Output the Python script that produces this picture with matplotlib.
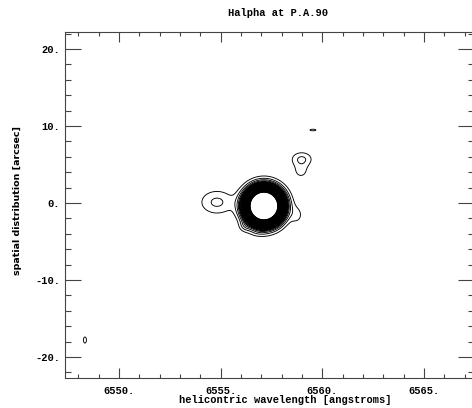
import numpy as np
import matplotlib
matplotlib.use("Agg")
import matplotlib.pyplot as plt
from matplotlib.ticker import FixedLocator, MultipleLocator

# emission components (wavelength [A], position [arcsec], widths, peak)
comp_wave = [6557.13, 6554.82, 6558.99, 6558.95, 6559.54, 6548.33, 6558.75, 6556.8, 6556.2]
comp_pos = [-0.39, 0.10, 5.71, 4.16, 9.48, -17.80, -1.56, -3.80, -3.0]
comp_dwave = [0.48, 0.58, 0.36, 0.29, 0.47, 0.17, 0.25, 0.30, 0.20]
comp_dpos = [1.27, 1.10, 0.65, 0.78, 0.33, 0.90, 0.90, 0.40, 0.5]
comp_peak = [111.0, 2.25, 2.15, 1.3, 1.05, 1.1, 1.2, 0.5, 1.5]

levels = list(range(1, 41))

xticks = [6550, 6555, 6560, 6565]
yticks = [-20, -10, 0, 10, 20]

wave = np.arange(6547.3, 6567.5, 0.02)
pos = np.arange(-22.8, 22.3, 0.05)
W, P = np.meshgrid(wave, pos)
flux = np.zeros_like(W)
for w0, p0, dw, dp, a in zip(comp_wave, comp_pos, comp_dwave, comp_dpos, comp_peak):
    flux += a * np.exp(-0.5 * (((W - w0) / dw) ** 2 + ((P - p0) / dp) ** 2))

mono = dict(family=["Liberation Mono", "DejaVu Sans Mono"], weight="bold")

fig = plt.figure(figsize=(4.72, 4.08), dpi=100)
ax = fig.add_axes([65 / 472, 30 / 408, 409 / 472, 346 / 408])

lws = [0.65 if lv <= 4 else 0.9 for lv in levels]
ax.contour(W, P, flux, levels=levels, colors="black", linewidths=lws)

ax.set_xlim(6547.35, 6567.46)
ax.set_ylim(-22.73, 22.21)

ax.xaxis.set_major_locator(FixedLocator(xticks))
ax.xaxis.set_minor_locator(MultipleLocator(1))
ax.yaxis.set_major_locator(FixedLocator(yticks))
ax.yaxis.set_minor_locator(MultipleLocator(2))
ax.set_xticklabels(["%d." % x for x in xticks], **mono, size=7.5)
ax.set_yticklabels(["%d." % y for y in yticks], **mono, size=7.5)

ax.tick_params(axis="x", which="major", direction="in", length=7.2, width=0.8,
               top=True, bottom=True, pad=5.5, color="#444444")
ax.tick_params(axis="x", which="minor", direction="in", length=3, width=0.8,
               top=True, bottom=True, color="#444444")
ax.tick_params(axis="y", which="major", direction="in", length=11.5, width=0.8,
               left=True, right=True, pad=3.6, color="#444444")
ax.tick_params(axis="y", which="minor", direction="in", length=4, width=0.8,
               left=True, right=True, color="#444444")
for s in ax.spines.values():
    s.set_linewidth(0.8)
    s.set_color("#444444")

ax.set_xlabel("helicontric wavelength [angstroms]", **mono, size=7.5)
ax.xaxis.label.set_va("center")
ax.xaxis.set_label_coords(0.538, -0.064)

ax.set_ylabel("spatial distribution [arcsec]",
              family=["Liberation Sans Narrow", "DejaVu Sans"], weight="bold", size=6.8)
ax.yaxis.label.set_va("center")
ax.yaxis.set_label_coords(-0.117, 0.514)

fig.text(278 / 472, 1 - 13 / 408, "Halpha at P.A.90", ha="center", va="center",
         **mono, size=7.5)

fig.savefig("out.png", dpi=100)
